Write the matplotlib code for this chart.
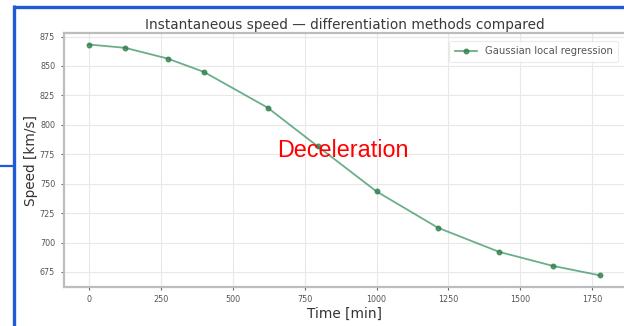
import matplotlib
matplotlib.use("Agg")
import matplotlib.pyplot as plt
from matplotlib.lines import Line2D

# Data
time_min = [0, 126, 273, 399, 621, 796, 1000, 1214, 1427, 1614, 1779]
speed_kms = [868.2, 865.4, 856.3, 845.0, 814.6, 781.6, 743.4, 712.5, 692.0, 680.1, 672.0]
series_label = "Gaussian local regression"
title = "Instantaneous speed \u2014 differentiation methods compared"
xlabel = "Time [min]"
ylabel = "Speed [km/s]"
annotation = "Deceleration"
xticks = [0, 250, 500, 750, 1000, 1250, 1500, 1750]
yticks = [675, 700, 725, 750, 775, 800, 825, 850, 875]

W, H = 624, 326
fig = plt.figure(figsize=(W / 100, H / 100), dpi=100)
fig.patch.set_facecolor("white")

ax = fig.add_axes([63.5 / W, 1 - 287 / H, (626 - 63.5) / W, (287 - 33) / H])
ax.plot(time_min, speed_kms, color="#3a9462", lw=1.3, alpha=0.75,
        marker="o", markersize=3.3, markerfacecolor="#2e7d4a",
        markeredgecolor="#2e7d4a", label=series_label, zorder=3)

ax.set_xticks(xticks)
ax.set_yticks(yticks)
ax.tick_params(labelsize=5.8, colors="#666666", length=2.5, width=0.8)
for lab in ax.get_xticklabels() + ax.get_yticklabels():
    lab.set_color("#555555")
ax.grid(True, color="#e8e8e8", lw=0.8)
ax.set_axisbelow(True)
for s in ax.spines.values():
    s.set_color("#bdbdbd")
    s.set_linewidth(1.6)

ax.set_title(title, fontsize=9.8, color="#3a3a3a", pad=3)
ax.set_xlabel(xlabel, fontsize=9.8, color="#333333", labelpad=2)
ax.set_ylabel(ylabel, fontsize=9.8, color="#333333", labelpad=1)

leg = ax.legend(loc="upper right", fontsize=7.2, frameon=True, borderpad=0.55,
                handlelength=2.2, bbox_to_anchor=(0.995, 0.99))
leg.get_frame().set_edgecolor("#e6e6e6")
leg.get_frame().set_linewidth(0.8)
for t in leg.get_texts():
    t.set_color("#555555")

fig.text(342.5 / W, 1 - 150.5 / H, annotation, color="red", fontsize=16.8,
         family="Liberation Sans", ha="center", va="center")

# Blue slide frame
blue = "#1f5bd4"
fig.add_artist(Line2D([14 / W, 1.0], [1 - 6.5 / H, 1 - 6.5 / H], color=blue, lw=2.4,
                      transform=fig.transFigure, solid_capstyle="butt"))
fig.add_artist(Line2D([14 / W, 14 / W], [0, 1 - 5.3 / H], color=blue, lw=2.4,
                      transform=fig.transFigure, solid_capstyle="butt"))
fig.add_artist(Line2D([0, 14 / W], [1 - 166 / H, 1 - 166 / H], color=blue, lw=1.6,
                      transform=fig.transFigure, solid_capstyle="butt"))

fig.savefig("out.png", dpi=100, facecolor="white")
